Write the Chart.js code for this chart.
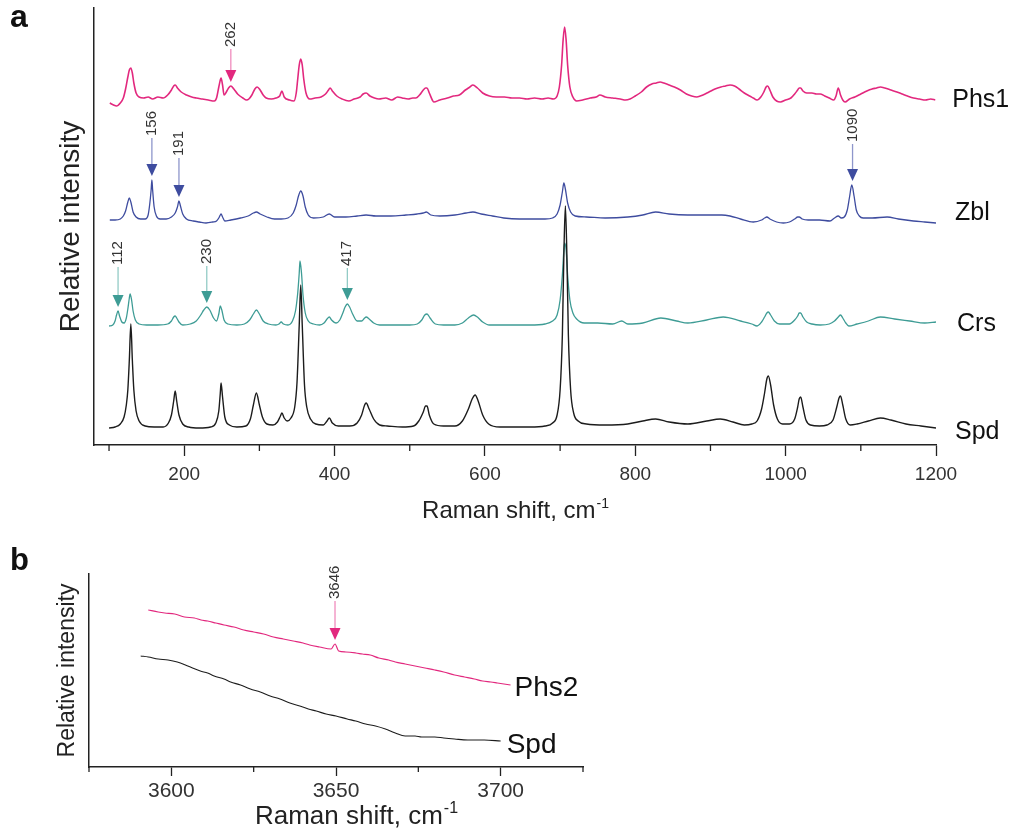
<!DOCTYPE html>
<html>
<head>
<meta charset="utf-8">
<script src="https://cdn.jsdelivr.net/npm/chart.js@4.4.1/dist/chart.umd.min.js"></script>
<style>
  body { margin: 0; background: #fff; width: 1028px; height: 832px; position: relative; overflow: hidden; }
  canvas { position: absolute; left: 0; }
  #graphA { top: 0; }
  #graphB { top: 530px; }
</style>
</head>
<body>
<canvas id="graphA" width="1028" height="530"></canvas>
<canvas id="graphB" width="600" height="302"></canvas>
<script>
// ---- dados (x = Raman shift, y = intensidade relativa com offset) ----
const spdA = [[100,17],[108,18],[115,21],[120,28],[123,40],[125,55],[127,85],[129,121],[131,85],[133,55],[136,34],[140,24],[148,19],[160,18],[172,18],[179,22],[183,30],[186,44],[188,54],[190,44],[193,30],[198,21],[206,18],[220,17],[235,18],[242,22],[246,34],[248,52],[249,62],[251,48],[254,28],[260,20],[270,18],[282,19],[288,26],[292,40],[296,52],[300,40],[304,28],[310,21],[318,20],[324,23],[328,29],[330,32],[333,27],[337,24],[342,27],[347,38],[350,62],[353,120],[355,160],[357,120],[360,60],[363,38],[368,26],[375,21],[385,20],[390,24],[393,27],[397,22],[405,19],[420,19],[430,22],[436,30],[440,40],[442,42],[446,36],[452,26],[460,20],[470,19],[490,18],[505,19],[512,24],[518,33],[521,39],[523,39],[526,30],[532,21],[545,19],[560,19],[570,24],[578,36],[583,46],[587,50],[591,44],[597,30],[605,21],[620,18],[640,18],[660,18],[680,19],[690,22],[696,30],[700,55],[703,110],[705,190],[707,239],[709,190],[711,110],[714,55],[718,32],[724,24],[735,21],[760,20],[790,21],[810,24],[827,26],[845,23],[870,21],[895,24],[913,26],[930,23],[945,20],[955,21],[962,24],[968,36],[972,52],[975,66],[977,69],[980,60],[984,40],[989,26],[996,21],[1005,21],[1012,26],[1016,38],[1018,46],[1020,48],[1023,38],[1027,25],[1033,20],[1045,19],[1055,20],[1063,25],[1068,38],[1071,47],[1073,49],[1076,40],[1080,26],[1086,20],[1095,21],[1110,24],[1126,27],[1140,25],[1160,21],[1180,19],[1200,17]];

const crsA = [[100,119],[105,120],[108,124],[110,130],[112,134],[114,129],[117,123],[120,122],[123,127],[125,136],[127,147],[128,151],[130,145],[132,134],[135,125],[140,121],[150,120],[165,120],[178,121],[183,124],[186,128],[188,129],[190,127],[193,123],[198,120],[208,121],[216,124],[222,130],[226,135],[230,138],[234,135],[239,127],[243,124],[246,131],[248,139],[250,135],[253,125],[258,121],[270,120],[280,121],[287,125],[292,131],[296,135],[300,131],[305,124],[312,121],[322,120],[326,121],[329,123],[332,121],[338,120],[344,124],[348,134],[351,152],[353,172],[354,184],[356,172],[358,150],[361,132],[365,124],[372,121],[380,120],[386,122],[390,126],[393,128],[396,125],[402,122],[407,125],[411,132],[414,138],[417,141],[420,138],[424,131],[430,124],[436,124],[440,127],[442,128],[446,126],[452,122],[460,120],[480,120],[500,120],[510,121],[516,125],[520,130],[523,131],[527,127],[534,121],[545,120],[560,120],[570,122],[578,127],[585,130],[590,128],[597,123],[606,120],[620,120],[640,120],[660,120],[680,121],[690,124],[696,130],[700,145],[703,170],[705,195],[706,202],[708,195],[710,170],[713,145],[717,132],[722,126],[732,122],[750,122],[770,121],[782,124],[790,121],[810,122],[834,127],[855,124],[870,122],[895,125],[917,128],[940,124],[955,121],[962,119],[968,123],[972,128],[975,132],[977,133],[980,130],[985,124],[992,121],[1005,121],[1012,125],[1016,129],[1018,132],[1020,132],[1023,128],[1028,123],[1035,121],[1046,120],[1058,121],[1065,124],[1070,128],[1073,130],[1076,127],[1080,122],[1084,119],[1095,121],[1110,124],[1126,128],[1145,126],[1165,124],[1185,122],[1200,123]];

const zblA = [[101,225],[108,225],[115,226],[119,229],[122,234],[125,243],[127,247],[129,243],[132,233],[136,228],[142,226],[148,226],[152,230],[154,240],[156,255],[157,265],[158,255],[160,238],[163,229],[168,226],[176,226],[183,228],[188,232],[191,238],[193,244],[195,239],[198,231],[203,226],[212,224],[220,223],[229,222],[238,223],[243,224],[246,227],[248,230],[249,231],[251,228],[254,224],[262,225],[275,227],[285,229],[292,232],[296,233],[301,231],[310,228],[320,226],[329,226],[338,227],[345,232],[349,240],[352,249],[355,254],[358,249],[361,238],[365,230],[372,227],[385,228],[393,231],[400,228],[415,228],[430,229],[442,230],[455,229],[475,229],[495,230],[510,231],[518,232],[522,233],[528,230],[540,229],[560,230],[575,232],[584,233],[595,231],[610,229],[625,227],[646,226],[665,226],[680,226],[690,227],[696,231],[700,240],[703,253],[705,262],[707,256],[710,242],[714,233],[720,229],[735,228],[760,227],[790,228],[810,230],[827,233],[845,231],[870,230],[895,230],[915,230],[926,229],[940,226],[957,223],[968,225],[972,227],[975,228],[979,226],[988,223],[997,222],[1005,223],[1012,226],[1016,228],[1018,228],[1022,226],[1030,225],[1045,225],[1059,224],[1065,227],[1070,229],[1074,227],[1078,228],[1082,235],[1085,248],[1088,260],[1091,249],[1094,235],[1098,229],[1103,227],[1115,227],[1135,228],[1150,226],[1170,224],[1185,223],[1200,222]];

const phs1A = [[101,342],[106,340],[110,339],[115,342],[119,347],[122,356],[125,368],[127,375],[129,377],[131,372],[133,362],[136,352],[140,348],[146,347],[152,348],[158,346],[165,348],[172,347],[178,350],[183,355],[186,359],[188,360],[191,357],[196,353],[203,350],[210,348],[216,347],[224,346],[232,345],[240,344],[243,347],[246,358],[248,365],[249,367],[251,360],[253,350],[256,353],[259,357],[262,359],[266,356],[271,351],[278,347],[283,345],[286,346],[290,350],[294,356],[297,358],[301,355],[305,350],[309,347],[316,346],[322,347],[327,349],[330,354],[333,348],[340,345],[346,344],[349,352],[351,366],[353,380],[355,386],[357,380],[359,366],[362,352],[367,346],[374,347],[382,348],[388,351],[392,355],[394,357],[397,354],[403,349],[410,346],[419,344],[426,346],[434,348],[438,351],[442,352],[447,349],[453,347],[459,346],[468,347],[476,345],[484,348],[490,347],[498,346],[504,347],[508,347],[513,350],[518,355],[521,357],[523,357],[526,352],[530,345],[532,343],[540,345],[550,347],[558,349],[566,350],[574,355],[580,358],[584,360],[590,357],[597,352],[606,349],[615,348],[626,348],[636,347],[646,347],[656,346],[666,347],[676,346],[684,347],[691,346],[696,349],[699,358],[702,380],[704,405],[706,418],[708,405],[710,380],[713,358],[717,348],[722,344],[730,345],[740,347],[748,348],[753,350],[760,348],[770,347],[780,346],[787,345],[793,346],[800,349],[808,353],[815,358],[822,361],[828,362],[833,363],[838,362],[845,360],[852,358],[860,355],[868,351],[875,349],[882,348],[890,350],[898,353],[906,356],[914,358],[920,359],[926,360],[932,359],[938,356],[945,352],[952,349],[957,347],[962,345],[967,348],[971,353],[974,358],[976,359],[979,355],[983,348],[988,344],[993,343],[1000,345],[1007,347],[1012,351],[1016,355],[1018,357],[1020,357],[1023,354],[1028,352],[1035,352],[1041,351],[1046,351],[1052,349],[1058,347],[1064,345],[1067,349],[1070,357],[1073,350],[1076,345],[1079,343],[1085,346],[1092,348],[1100,351],[1108,354],[1115,356],[1121,357],[1126,358],[1132,357],[1140,355],[1148,353],[1155,351],[1162,349],[1170,347],[1178,346],[1186,345],[1193,346],[1199,345]];

const phs2B = [[3593,157],[3596,155],[3598,154],[3601,153],[3604,150],[3607,149],[3609,147],[3611,146],[3613.5,144],[3616,142],[3619,140],[3622,137],[3625,135],[3628,133],[3631,130],[3634,128],[3637,126],[3640,124],[3642,122],[3645,120],[3648.5,118],[3649.7,123],[3650.8,116],[3653,115],[3656,114],[3658,113],[3660.4,112],[3663,109],[3666,107],[3668,105],[3671,103],[3674,101],[3677,99],[3680,97],[3682.7,95],[3686,92],[3689,90],[3692,88],[3694.5,86],[3697,85],[3699,84],[3701,83],[3703,82]];

const spdB = [[3590.7,111],[3593,110],[3596,108],[3599,107],[3601.8,105],[3605,101],[3608.8,96],[3611,94],[3613,91],[3616,88],[3618,85],[3621,82],[3624,78],[3627,75],[3630,71],[3633,68],[3636,64],[3639,61],[3641.6,58],[3644,56],[3647,53],[3650,51],[3653.4,48],[3656,46],[3659,43],[3662,41],[3665,38],[3668,34],[3671,31],[3674,31],[3676,30],[3680,30],[3682.7,29],[3686,28],[3690,27],[3695,27],[3700,26]];

const namesA = ['Spd', 'Crs', 'Zbl', 'Phs1'];
const namesB = ['Spd', 'Phs2'];

const xTicksA = [200, 400, 600, 800, 1000, 1200];
const xMinorA = [100, 300, 500, 700, 900, 1100];
const xTicksB = [3600, 3650, 3700];
const xMinorB = [3575, 3625, 3675, 3725];

// picos marcados com seta: serie, posicao, texto
const peaksA = [
  { set: 3, at: 262, text: '262', len: 21 },
  { set: 2, at: 157, text: '156', len: 26 },
  { set: 2, at: 193, text: '191', len: 27 },
  { set: 2, at: 1089, text: '1090', len: 25 },
  { set: 1, at: 112, text: '112', len: 28 },
  { set: 1, at: 230, text: '230', len: 25 },
  { set: 1, at: 417, text: '417', len: 20 }
];
const peaksB = [
  { set: 1, at: 3649.7, text: '3646', len: 27 }
];

const FONT = '"Liberation Sans", Arial, sans-serif';
Chart.defaults.font.family = FONT;
Chart.defaults.color = '#222';

const colors = { spd: '#1c1c1c', crs: '#3e9c95', zbl: '#3e4c9f', phs: '#e2287e' };
const stems = { '#1c1c1c': '#888', '#3e9c95': '#93cbc6', '#3e4c9f': '#8e96cb', '#e2287e': '#f08cbd' };

const toXY = arr => arr.map(p => ({ x: p[0], y: p[1] }));

const makeSet = (label, pts, color, width) => ({
  label: label,
  data: toXY(pts),
  borderColor: color,
  borderWidth: width || 1.3,
  pointRadius: 0,
  fill: false,
  cubicInterpolationMode: 'monotone'
});

// desenha ticks menores, titulo do eixo x com expoente, letra do painel, nomes e setas
const decor = {
  id: 'decor',
  afterDraw(chart, args, o) {
    const { ctx, chartArea: area, scales: { x, y } } = chart;
    ctx.save();
    ctx.strokeStyle = '#222';
    ctx.lineWidth = 1.3;
    o.minor.forEach(v => {
      const px = x.getPixelForValue(v);
      ctx.beginPath();
      ctx.moveTo(px, area.bottom);
      ctx.lineTo(px, area.bottom + o.minorLen);
      ctx.stroke();
    });

    ctx.fillStyle = '#222';
    ctx.textAlign = 'left';
    ctx.textBaseline = 'alphabetic';
    const main = 'Raman shift, cm';
    ctx.font = `${o.titleSize}px ${FONT}`;
    const w1 = ctx.measureText(main).width;
    ctx.font = `${Math.round(o.titleSize * 0.6)}px ${FONT}`;
    const w2 = ctx.measureText('-1').width;
    const left = (area.left + area.right) / 2 + o.titleShift - (w1 + w2) / 2;
    ctx.font = `${o.titleSize}px ${FONT}`;
    ctx.fillText(main, left, o.titleBase);
    ctx.font = `${Math.round(o.titleSize * 0.6)}px ${FONT}`;
    ctx.fillText('-1', left + w1 + 1, o.titleBase - o.titleSize * 0.42);

    ctx.font = `bold ${o.letterSize}px ${FONT}`;
    ctx.fillStyle = '#111';
    ctx.fillText(o.letter, 10, o.letterBase);

    ctx.font = `${o.nameSize}px ${FONT}`;
    ctx.textBaseline = 'middle';
    chart.data.datasets.forEach((ds, i) => {
      const last = ds.data[ds.data.length - 1];
      ctx.fillText(ds.label, x.getPixelForValue(last.x) + o.nameGap[i], y.getPixelForValue(last.y) + o.nameShift[i]);
    });

    o.peaks.forEach(a => {
      const ds = chart.data.datasets[a.set];
      const near = ds.data.filter(p => Math.abs(p.x - a.at) <= 4);
      const top = Math.max(...near.map(p => p.y));
      const px = x.getPixelForValue(a.at);
      const tip = y.getPixelForValue(top) - 4;
      ctx.fillStyle = ds.borderColor;
      ctx.beginPath();
      ctx.moveTo(px, tip);
      ctx.lineTo(px - 5.5, tip - 12);
      ctx.lineTo(px + 5.5, tip - 12);
      ctx.closePath();
      ctx.fill();
      ctx.strokeStyle = stems[ds.borderColor];
      ctx.lineWidth = 1.3;
      ctx.beginPath();
      ctx.moveTo(px, tip - 12);
      ctx.lineTo(px, tip - 12 - a.len);
      ctx.stroke();
      ctx.save();
      ctx.translate(px, tip - 14 - a.len);
      ctx.rotate(-Math.PI / 2);
      ctx.font = `15px ${FONT}`;
      ctx.fillStyle = '#333';
      ctx.textAlign = 'left';
      ctx.textBaseline = 'middle';
      ctx.fillText(a.text, 0, 0);
      ctx.restore();
    });
    ctx.restore();
  }
};

const axisX = (min, max, ticks, tickSize, tickLen, pad, height) => ({
  type: 'linear',
  min: min,
  max: max,
  afterBuildTicks: s => { s.ticks = ticks.map(v => ({ value: v })); },
  afterFit: s => { s.height = height; },
  ticks: { color: '#333', font: { size: tickSize }, padding: pad, maxRotation: 0, callback: v => String(v) },
  grid: { drawOnChartArea: false, drawTicks: true, tickLength: tickLen, tickColor: '#222', tickWidth: 1.3 },
  border: { display: true, color: '#222', width: 1.5 }
});

const axisY = (max, width, titleSize, titlePad) => ({
  type: 'linear',
  min: 0,
  max: max,
  afterFit: s => { s.width = width; },
  ticks: { display: false },
  grid: { display: false, drawTicks: false },
  border: { display: true, color: '#222', width: 1.5 },
  title: { display: true, text: 'Relative intensity', color: '#222', font: { size: titleSize }, padding: { top: titlePad, bottom: 0 } }
});

let graphA = new Chart(document.getElementById('graphA').getContext('2d'), {
  type: 'line',
  data: {
    datasets: [
      makeSet(namesA[0], spdA, colors.spd, 1.4),
      makeSet(namesA[1], crsA, colors.crs),
      makeSet(namesA[2], zblA, colors.zbl),
      makeSet(namesA[3], phs1A, colors.phs, 1.6)
    ]
  },
  options: {
    responsive: false,
    animation: false,
    layout: { padding: { left: 0, top: 8, right: 92, bottom: 0 } },
    plugins: {
      legend: { display: false },
      tooltip: { enabled: false },
      decor: {
        minor: xMinorA, minorLen: 6,
        titleSize: 24, titleBase: 518, titleShift: 0,
        letter: 'a', letterSize: 32, letterBase: 27,
        nameSize: 25, nameGap: [19, 21, 19, 17], nameShift: [4, 2, -10, 0],
        peaks: peaksA
      }
    },
    scales: {
      x: axisX(80, 1200, xTicksA, 19, 11, 7, 85),
      y: axisY(437, 94, 28, 54)
    }
  },
  plugins: [decor]
});

let graphB = new Chart(document.getElementById('graphB').getContext('2d'), {
  type: 'line',
  data: {
    datasets: [
      makeSet(namesB[0], spdB, colors.spd, 1.1),
      makeSet(namesB[1], phs2B, colors.phs, 1.2)
    ]
  },
  options: {
    responsive: false,
    animation: false,
    layout: { padding: { left: 0, top: 44, right: 17, bottom: 0 } },
    plugins: {
      legend: { display: false },
      tooltip: { enabled: false },
      decor: {
        minor: xMinorB, minorLen: 5,
        titleSize: 26, titleBase: 294, titleShift: 20,
        letter: 'b', letterSize: 31, letterBase: 40,
        nameSize: 28, nameGap: [6, 4], nameShift: [4, 3],
        peaks: peaksB
      }
    },
    scales: {
      x: axisX(3575, 3725, xTicksB, 21, 9, 3, 65),
      y: axisY(193, 89, 23, 54)
    }
  },
  plugins: [decor]
});
</script>
</body>
</html>
